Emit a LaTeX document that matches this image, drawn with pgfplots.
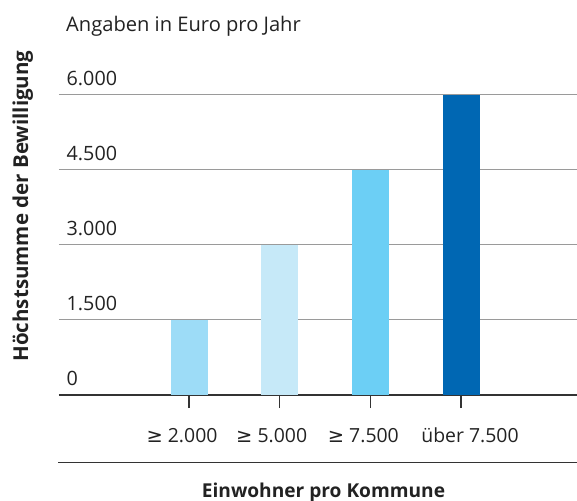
\documentclass[border=0pt]{standalone}
\usepackage{fontspec}
\setmainfont{Open Sans}
\newfontfamily\symf{DejaVu Sans}
\usepackage{pgfplots}
\pgfplotsset{compat=1.18}
\definecolor{txt}{HTML}{222222}
\definecolor{grid}{HTML}{9A9A9A}
\definecolor{axl}{HTML}{333333}
\definecolor{cA}{HTML}{9DDCF7}
\definecolor{cB}{HTML}{C6E9F8}
\definecolor{cC}{HTML}{6CCFF5}
\definecolor{cD}{HTML}{0067B3}
\newcommand{\mygeq}{{\symf ≥}}
\begin{document}
\begin{tikzpicture}
\begin{axis}[
  at={(0,0)}, anchor=south west,
  scale only axis,
  width=518bp, height=300.5bp,
  xmin=-1.434, xmax=4.279,
  ymin=0, ymax=6000,
  ybar, bar width=0.408,
  axis x line*=bottom, axis y line*=left,
  y axis line style={draw=none},
  x axis line style={draw=axl, line width=1.5bp},
  ytick={0,1500,3000,4500,6000},
  yticklabels={0,1.500,3.000,4.500,6.000},
  ytick style={draw=none},
  ymajorgrids,
  grid style={draw=grid, line width=1.2bp},
  yticklabel style={anchor=base west, inner sep=0pt, xshift=20.5bp, yshift=9.5bp, font=\fontsize{19.8}{20}\selectfont, text=txt},
  xtick={0,1,2,3},
  xticklabels={{\kern-7bp\mygeq{} 2.000\kern7bp},{\kern-8bp\mygeq{} 5.000\kern8bp},{\kern-7bp\mygeq{} 7.500\kern7bp},{\kern9bp über 7.500\kern-9bp}},
  tick align=outside,
  major tick length=13bp,
  xtick style={draw=axl, line width=1.3bp},
  xticklabel style={anchor=base, inner sep=0pt, yshift=-34bp, font=\fontsize{19.5}{20}\selectfont, text=txt},
  xlabel={Einwohner pro Kommune},
  ylabel={Höchstsumme der Bewilligung},
  every axis x label/.style={at={(axis description cs:0.5106,0)}, anchor=base, yshift=-102bp, font=\bfseries\fontsize{19.2}{20}\selectfont, text=txt},
  every axis y label/.style={at={(axis description cs:-0.0598,0.629)}, rotate=90, anchor=base, font=\bfseries\fontsize{20.6}{21}\selectfont, text=txt},
  clip=false,
]
\addplot[fill=cA, draw=none, bar shift=0pt] coordinates {(0,1500)};
\addplot[fill=cB, draw=none, bar shift=0pt] coordinates {(1,3000)};
\addplot[fill=cC, draw=none, bar shift=0pt] coordinates {(2,4500)};
\addplot[fill=cD, draw=none, bar shift=0pt] coordinates {(3,6000)};
\end{axis}
\node[anchor=base west, inner sep=0pt, font=\fontsize{20.2}{21}\selectfont, text=txt] at (7bp,363bp) {Angaben in Euro pro Jahr};
\draw[draw=axl, line width=1.5bp] (-1bp,-67.7bp) -- (518bp,-67.7bp);
\pgfresetboundingbox
\path[use as bounding box] (-59bp,-106bp) rectangle (518bp,395bp);
\end{tikzpicture}
\end{document}
